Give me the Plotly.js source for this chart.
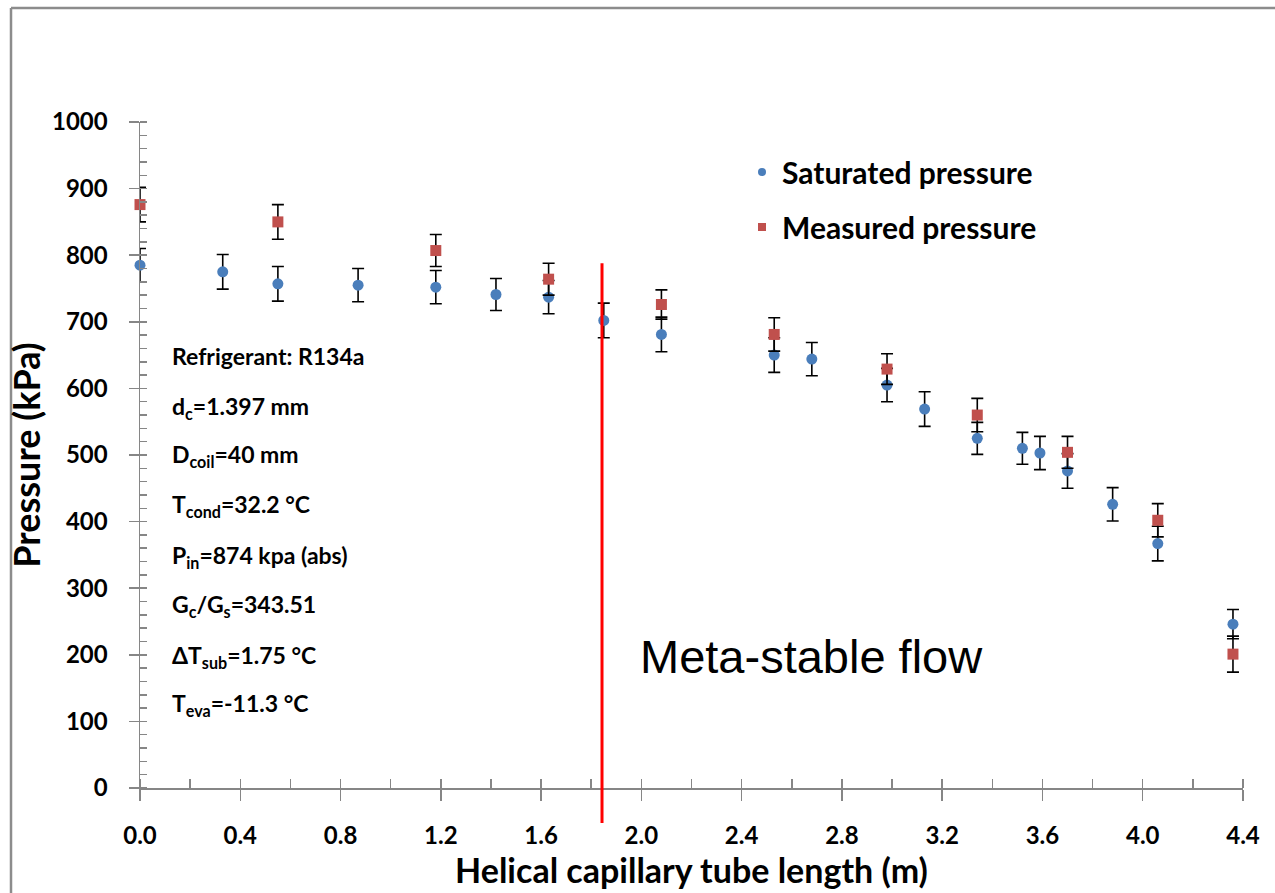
<!DOCTYPE html>
<html>
<head>
<meta charset="utf-8">
<script src="https://cdn.plot.ly/plotly-3.0.1.min.js"></script>
<style>html,body{margin:0;padding:0;background:#fff;}#chart{width:1275px;height:893px;}</style>
</head>
<body>
<div id="chart"></div>
<script>
// ---- data ----
const satLength   = [0.00, 0.33, 0.55, 0.87, 1.18, 1.42, 1.63, 1.85, 2.08, 2.53, 2.68, 2.98, 3.13, 3.34, 3.52, 3.59, 3.70, 3.88, 4.06, 4.36];
const satPressure = [785, 775, 757, 755, 752, 741, 737, 702, 681, 650, 644, 605, 569, 525, 510, 503, 476, 426, 367, 246];
const satError    = [25, 26, 26, 25, 25, 24, 25, 26, 26, 26, 25, 25, 26, 24, 24, 25, 26, 25, 26, 22];

const meaLength   = [0.00, 0.55, 1.18, 1.63, 2.08, 2.53, 2.98, 3.34, 3.70, 4.06, 4.36];
const meaPressure = [876, 850, 807, 764, 726, 681, 629, 560, 504, 402, 201];
const meaError    = [26, 26, 24, 24, 22, 25, 23, 25, 24, 25, 27];

const seriesNames = ["Saturated pressure", "Measured pressure"];
const metaStableStart = 1.843;   // m, red boundary line
const metaStableTop = 788;       // kPa, top of red boundary line

const infoLines = [
  "Refrigerant: R134a",
  "d<sub>c</sub>=1.397 mm",
  "D<sub>coil</sub>=40 mm",
  "T<sub>cond</sub>=32.2 °C",
  "P<sub>in</sub>=874 kpa (abs)",
  "G<sub>c</sub>/G<sub>s</sub>=343.51",
  "ΔT<sub>sub</sub>=1.75 °C",
  "T<sub>eva</sub>=-11.3 °C"
];
const infoPressure = [649, 572, 500, 424, 348, 274, 197, 125]; // kPa level of each line

// ---- layout geometry ----
const W = 1275, H = 893;
const L = 140, R = 1243, T = 122, B = 788;
const px2x = p => (p - L) / (R - L);
const py2y = p => (B - p) / (B - T);

const blue = "#4a7ebb", red = "#c0504d";
const FONT = "Lato, 'Open Sans', sans-serif";

const traces = [
  {
    x: satLength, y: satPressure, type: "scatter", mode: "markers", cliponaxis: false,
    name: seriesNames[0], showlegend: false,
    marker: {color: blue, size: 11, symbol: "circle"},
    error_y: {type: "data", array: satError, visible: true, color: "#000", thickness: 1.6, width: 6}
  },
  {
    x: meaLength, y: meaPressure, type: "scatter", mode: "markers", cliponaxis: false,
    name: seriesNames[1], showlegend: false,
    marker: {color: red, size: 11, symbol: "square"},
    error_y: {type: "data", array: meaError, visible: true, color: "#000", thickness: 1.6, width: 6}
  },
  {x: [null], y: [null], type: "scatter", mode: "markers", name: seriesNames[0], legendgroup: "a",
   marker: {color: blue, size: 8, symbol: "circle"}},
  {x: [null], y: [null], type: "scatter", mode: "markers", name: seriesNames[1], legendgroup: "b",
   marker: {color: red, size: 8, symbol: "square"}}
];

const annotations = infoLines.map((t, i) => ({
  x: 0.12, y: infoPressure[i], xref: "x", yref: "y", xanchor: "left", yanchor: "middle",
  text: t, showarrow: false, font: {family: FONT, size: 23, color: "#000", weight: 700}
}));
annotations.push({
  x: px2x(638), y: py2y(656), xref: "paper", yref: "paper", xanchor: "left", yanchor: "middle",
  text: "Meta-stable flow", showarrow: false,
  font: {family: "'Liberation Sans', Arial, sans-serif", size: 47, color: "#000", weight: 400}
});

const shapes = [
  {type: "line", xref: "x", yref: "paper", x0: metaStableStart, x1: metaStableStart,
   y0: py2y(823), y1: metaStableTop / 1000, line: {color: "#ff0000", width: 3}, layer: "above"},
  // outer frame (left and top edge)
  {type: "line", xref: "paper", yref: "paper", x0: px2x(11), x1: px2x(11), y0: py2y(8), y1: py2y(900),
   line: {color: "#8c8c8c", width: 2.5}},
  {type: "line", xref: "paper", yref: "paper", x0: px2x(11), x1: px2x(1280), y0: py2y(8), y1: py2y(8),
   line: {color: "#8c8c8c", width: 2.5}}
];

const layout = {
  width: W, height: H,
  margin: {l: L, r: W - R, t: T, b: H - B},
  paper_bgcolor: "#fff", plot_bgcolor: "#fff",
  font: {family: FONT, color: "#000", weight: 700},
  showlegend: true,
  legend: {
    x: px2x(742), y: py2y(146), xanchor: "left", yanchor: "top",
    font: {family: FONT, size: 30, color: "#000", weight: 700},
    bgcolor: "rgba(0,0,0,0)", tracegroupgap: 13
  },
  xaxis: {
    range: [0, 4.4], dtick: 0.4, tick0: 0, tickformat: ".1f",
    showgrid: false, zeroline: false, showline: true, linecolor: "#868686", linewidth: 1.5,
    ticks: "outside", ticklen: 11, tickcolor: "#868686", tickwidth: 1.5,
    ticklabelstandoff: 15,
    minor: {dtick: 0.2, ticks: "inside", ticklen: 9, tickcolor: "#868686", tickwidth: 1.5, showgrid: false},
    tickfont: {family: FONT, size: 24, color: "#000", weight: 700},
    title: {text: "Helical capillary tube length (m)", standoff: 8,
            font: {family: FONT, size: 34, color: "#000", weight: 700}}
  },
  yaxis: {
    range: [0, 1000], dtick: 100, tick0: 0,
    showgrid: false, zeroline: false, showline: true, linecolor: "#868686", linewidth: 1.5,
    ticks: "outside", ticklen: 10, tickcolor: "#868686", tickwidth: 1.5,
    ticklabelstandoff: 16,
    minor: {dtick: 20, ticks: "inside", ticklen: 7, tickcolor: "#868686", tickwidth: 1.5, showgrid: false},
    tickfont: {family: FONT, size: 24, color: "#000", weight: 700},
    title: {text: "Pressure (kPa)", standoff: 0,
            font: {family: FONT, size: 36, color: "#000", weight: 700}}
  },
  annotations: annotations,
  shapes: shapes
};

Plotly.newPlot("chart", traces, layout, {displayModeBar: false, staticPlot: true});
</script>
</body>
</html>
